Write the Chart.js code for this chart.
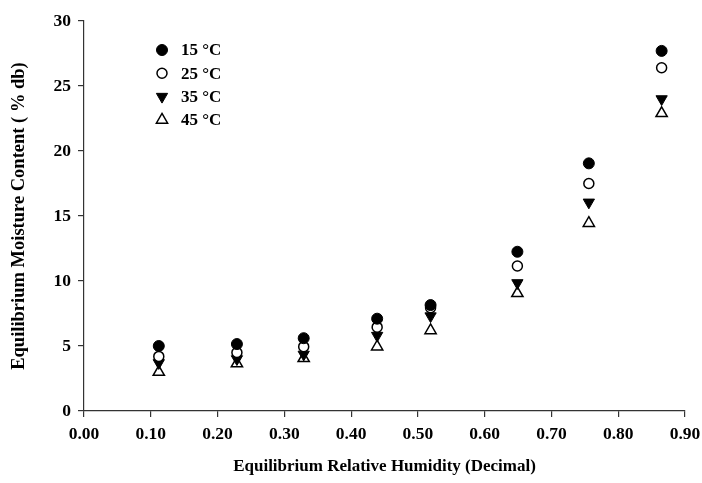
<!DOCTYPE html>
<html>
<head>
<meta charset="utf-8">
<script src="https://cdn.jsdelivr.net/npm/chart.js@4.4.1/dist/chart.umd.min.js"></script>
<style>
html,body{margin:0;padding:0;background:#fff;}
#wrap{width:702px;height:483px;position:relative;}
</style>
</head>
<body>
<div id="wrap"><canvas id="c" width="702" height="483"></canvas></div>
<script>
const rh = [0.112, 0.229, 0.329, 0.439, 0.519, 0.649, 0.756, 0.865];
const emc15 = [5.0, 5.15, 5.6, 7.1, 8.15, 12.25, 19.05, 27.7];
const emc25 = [4.2, 4.5, 4.95, 6.45, 7.95, 11.15, 17.5, 26.4];
const emc35 = [3.7, 4.0, 4.35, 5.8, 7.3, 9.85, 16.05, 24.0];
const emc45 = [3.0, 3.65, 4.05, 4.95, 6.2, 9.05, 14.45, 22.9];
const seriesLabels = ['15 °C', '25 °C', '35 °C', '45 °C'];
const xTitle = 'Equilibrium Relative Humidity (Decimal)';
const yTitle = 'Equilibrium Moisture Content ( % db)';

const FONT = '"Liberation Serif", "Times New Roman", serif';
const styles = [
  {pointStyle:'circle', radius:5.5, rotation:0, backgroundColor:'#000', borderColor:'#000', borderWidth:1},
  {pointStyle:'circle', radius:5, rotation:0, backgroundColor:'#fff', borderColor:'#000', borderWidth:1.5},
  {pointStyle:'triangle', radius:6.5, rotation:180, backgroundColor:'#000', borderColor:'#000', borderWidth:1},
  {pointStyle:'triangle', radius:6.5, rotation:0, backgroundColor:'#fff', borderColor:'#000', borderWidth:1.5}
];
const allY = [emc15, emc25, emc35, emc45];
const datasets = allY.map((ys, i) => ({
  label: seriesLabels[i],
  data: rh.map((x, j) => ({x: x, y: ys[j]})),
  pointStyle: styles[i].pointStyle,
  pointRadius: styles[i].radius,
  pointHoverRadius: styles[i].radius,
  pointRotation: styles[i].rotation,
  backgroundColor: styles[i].backgroundColor,
  borderColor: styles[i].borderColor,
  pointBorderWidth: styles[i].borderWidth,
  showLine: false
}));

const legendPlugin = {
  id: 'inLegend',
  afterDatasetsDraw(chart) {
    const ctx = chart.ctx;
    const a = chart.chartArea;
    const mx = a.left + 78, tx = a.left + 97;
    const y0 = a.top + 29, dy = 23.3;
    ctx.save();
    chart.data.datasets.forEach((ds, i) => {
      const y = y0 + i * dy;
      const s = styles[i];
      ctx.fillStyle = s.backgroundColor;
      ctx.strokeStyle = s.borderColor;
      ctx.lineWidth = s.borderWidth;
      Chart.helpers.drawPoint(ctx, {pointStyle: s.pointStyle, radius: s.radius, rotation: s.rotation, borderWidth: s.borderWidth}, mx, y);
      ctx.fillStyle = '#000';
      ctx.font = 'bold 17px ' + FONT;
      ctx.textBaseline = 'middle';
      ctx.textAlign = 'left';
      ctx.fillText(ds.label, tx, y + 1);
    });
    ctx.restore();
  }
};

new Chart(document.getElementById('c'), {
  type: 'scatter',
  data: { datasets },
  options: {
    responsive: false,
    animation: false,
    devicePixelRatio: 1,
    layout: { padding: { left: 0, right: 17, top: 21, bottom: 0 } },
    plugins: { legend: { display: false }, tooltip: { enabled: false } },
    scales: {
      x: {
        type: 'linear', min: 0, max: 0.9,
        afterFit(s) { s.height = 72; s.paddingRight = 0; s.paddingLeft = 0; },
        border: { display: true, color: '#333', width: 1.2 },
        grid: { display: true, drawOnChartArea: false, drawTicks: true, tickLength: 6, color: '#333', lineWidth: 1.2 },
        ticks: { stepSize: 0.1, padding: 7, color: '#000', font: { family: FONT, size: 17.5, weight: 'bold' },
                 callback: v => Number(v).toFixed(2), maxRotation: 0, autoSkip: false },
        title: { display: true, text: xTitle, color: '#000', font: { family: FONT, size: 17, weight: 'bold' }, padding: { top: 0, bottom: 6 } }
      },
      y: {
        type: 'linear', min: 0, max: 30,
        afterFit(s) { s.width = 84; },
        border: { display: true, color: '#333', width: 1.2 },
        grid: { display: true, drawOnChartArea: false, drawTicks: true, tickLength: 6, color: '#333', lineWidth: 1.2 },
        ticks: { stepSize: 5, padding: 7, color: '#000', font: { family: FONT, size: 17.5, weight: 'bold' } },
        title: { display: true, text: yTitle, color: '#000', font: { family: FONT, size: 18.5, weight: 'bold' }, padding: { top: 8, bottom: 0 } }
      }
    }
  },
  plugins: [legendPlugin]
});
</script>
</body>
</html>
